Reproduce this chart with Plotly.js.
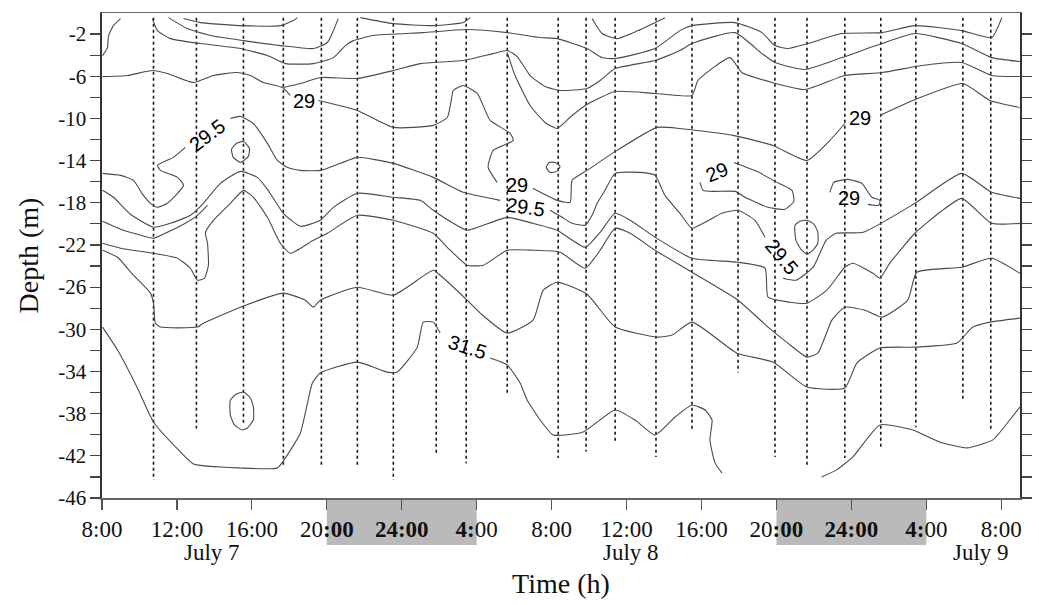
<!DOCTYPE html>
<html><head><meta charset="utf-8">
<script src="https://cdn.plot.ly/plotly-3.0.1.min.js"></script>
<style>html,body{margin:0;padding:0;background:#fff}#chart{width:1039px;height:605px}</style>
</head><body><div id="chart"></div>
<script>
// ---- time axis: hours since 08:00 July 7 ----
const xTickVals = [0,4,8,12,16,20,24,28,32,36,40,44,48];
const xTickText = ["8:00","12:00","16:00","20<b>:00</b>","<b>24:00</b>","<b>4:</b>00","8:00","12:00","16:00","20<b>:00</b>","<b>24:00</b>","<b>4:</b>00","8:00"];
const dateLabels = ["July 7","July 8","July 9"];
const dateLabelHours = [5.85, 28.24, 46.91];
const yTickVals = [-46,-44,-42,-40,-38,-36,-34,-32,-30,-28,-26,-24,-22,-20,-18,-16,-14,-12,-10,-8,-6,-4,-2];
const yTickText = ["-46","","-42","","-38","","-34","","-30","","-26","","-22","","-18","","-14","","-10","","-6","","-2"];
const nightStart = [12, 36];
const nightEnd = [20, 44];

// ---- CTD casts (dotted verticals) ----
const castHours = [2.75,5.04,7.55,9.68,11.71,13.63,15.55,17.84,19.44,21.63,24.35,25.84,27.39,29.57,31.49,33.95,35.92,37.63,39.65,41.57,43.44,45.95,47.44];
const castBottom = [-44.3,-39.4,-38.9,-43.1,-43.1,-43.1,-44.3,-41.7,-42.7,-36.2,-42.2,-41.6,-40.7,-42.1,-39.7,-34.1,-42.1,-43.1,-42.2,-41.3,-39.3,-36.6,-39.7];
const castTop = -0.45;

// ---- isolines (time h, depth m); null = gap for a label ----
const lineT0_t = [0.03,0.29,0.35,0.61,0.99];
const lineT0_d = [-4.04,-3.28,-2.14,-1.2,-0.53];
const lineP1_t = [4.35,5.25,7.55,9.52,10.21,10.43];
const lineP1_d = [-0.53,-0.91,-1.2,-1.2,-0.72,-0.44];
const lineP2_t = [3.55,4.56,5.79,7.55,9.52,11.28,12.03,12.35,12.61];
const lineP2_d = [-0.44,-1.48,-2.14,-2.62,-3.09,-3.37,-2.8,-1.67,-0.53];
const lineP3_t = [13.79,15.55,17.68,19.28,19.65];
const lineP3_d = [-0.44,-1.01,-1.2,-0.91,-0.44];
const lineV_t = [26.16,26.69,27.49,28.61,30.05];
const lineV_d = [-0.53,-1.95,-2.43,-1.67,-0.44];
const lineB_t = [2.69,2.96,3.65,5.25,7.39,8.83,9.79,11.28,12.35,12.99,13.41,14.48,17.15,19.49,21.63,23.39,24.29,25.89,26.69,27.39,29.52,30.85,31.49,33.79,35.23,35.92,36.61,37.68,39.49,41.63,43.39,45.89,47.49,48.03];
const lineB_d = [-0.53,-1.67,-2.43,-2.9,-3.37,-4.04,-4.8,-4.8,-4.23,-3.09,-2.62,-2.14,-1.86,-1.57,-1.86,-2.33,-2.43,-3.37,-4.23,-4.32,-3.37,-1.67,-1.2,-0.91,-1.86,-3.09,-3.37,-2.9,-1.95,-1.86,-1.2,-1.67,-2.33,-0.44];
const lineC_t = [9.68,10.59,11.65,13.63,15.55,16.99,19.28,20.88,21.63,22.16,22.85,23.65,24.45,25.89,26.59,27.39,29.52,30.85,31.49,33.79,35.23,35.92,37.52,39.49,41.63,43.39,45.89,47.49,48.99];
const lineC_d = [-7.07,-6.69,-6.12,-6.21,-5.46,-4.8,-4.51,-3.85,-3.56,-4.13,-5.93,-6.97,-7.35,-7.16,-6.4,-5.27,-4.51,-3.56,-2.9,-1.86,-3.85,-4.7,-5.36,-4.23,-2.9,-1.95,-2.9,-4.23,-4.6];
const lineD_t = [21.63,22.05,22.85,23.65,24.29,25.09,25.89,27.39,29.52,31.49,31.81,33.52,34.16,35.76,37.52,39.65,41.63,43.76,45.89,47.49,48.99];
const lineD_d = [-3.75,-5.93,-8.77,-10.38,-10.95,-9.72,-8.68,-7.45,-7.63,-7.82,-6.4,-4.23,-5.65,-6.59,-7.26,-5.93,-5.65,-4.98,-4.7,-5.93,-6.02];
const iso29_t = [0.03,1.36,2.69,3.49,4.88,5.95,7.23,7.92,8.61,9.63,10.05,null,11.55,13.63,15.55,17.68,18.43,18.64,18.75,19.28,20.03,20.72,21.79,21.95,20.88,20.61,21.09,null,22.99,24.29,24.99,25.09,25.89,27.49,29.63,30.85,33.68,35.81,37.63,38.85,39.65,null,41.52,43.28,45.95,47.39,48.99];
const iso29_d = [-6.03,-5.93,-5.46,-5.74,-6.59,-5.93,-5.65,-5.93,-6.59,-7.07,-7.82,null,-8.3,-9.24,-10.85,-10.66,-9.91,-8.3,-7.35,-6.88,-7.63,-10.19,-11.42,-12.09,-13.03,-14.64,-16.06,null,-16.63,-17.77,-17.96,-15.87,-14.93,-13.03,-10.85,-10.95,-11.61,-12.56,-13.98,-12.09,-10.48,null,-9.72,-8.3,-6.69,-8.3,-8.96];
const iso295_t = [0.03,0.99,1.68,2.21,2.59,2.96,3.49,4.35,4.03,3.12,2.96,3.81,4.45,null,6.85,7.39,8.08,8.83,9.36,9.89,10.59,11.65,12.72,13.63,15.55,17.68,19.28,21.25,null,23.92,24.56,25.09,25.79,26.16,26.43,26.85,27.39,28.72,29.52,30.05,30.85,31.49,32.19,33.09,33.95,34.85,35.39,null,36.35,37.05,37.96,38.65,39.19,40.63,43.39,45.89,47.49,49.0];
const iso295_d = [-15.21,-15.4,-15.87,-17.3,-18.05,-18.43,-18.05,-16.35,-15.59,-14.93,-14.45,-13.69,-12.75,null,-10.0,-9.81,-10.48,-12.37,-13.98,-14.64,-14.93,-14.93,-14.26,-13.69,-14.26,-15.59,-17.01,-17.77,null,-18.71,-19.38,-19.95,-20.13,-19.19,-18.05,-16.82,-15.21,-15.12,-15.4,-17.3,-19.0,-20.42,-19.85,-19.0,-18.71,-19.66,-21.27,null,-25.15,-25.34,-24.11,-21.56,-20.89,-20.8,-18.05,-15.21,-17.01,-17.58];
const lineE_t = [0.03,0.61,1.52,2.75,3.65,4.72,5.41,6.32,7.39,8.29,8.83,9.68,10.59,11.65,12.35,13.63,15.55,16.99,17.68,18.75,19.49,21.63,23.01,24.29,25.79,26.59,27.39,28.19,29.52,31.49,33.95,35.39,35.55,36.72,37.63,38.69,39.65,40.08,41.15,41.52,42.05,43.39,44.73,45.89,47.49,48.99];
const lineE_d = [-16.82,-17.48,-19.09,-20.32,-19.95,-19.19,-18.05,-16.16,-15.02,-15.59,-16.73,-19.0,-20.23,-19.66,-18.43,-17.1,-17.48,-17.77,-18.71,-19.95,-20.61,-19.38,-19.95,-20.61,-22.22,-20.8,-19.0,-19.66,-21.27,-23.26,-23.64,-24.2,-26.95,-27.43,-27.52,-26.29,-24.11,-23.73,-24.68,-25.15,-23.73,-20.89,-18.9,-17.58,-19.95,-19.95];
const lineF_t = [0.03,0.99,1.89,2.75,3.49,4.35,5.09,5.63];
const lineF_d = [-19.76,-20.51,-20.99,-21.37,-20.8,-20.04,-19.19,-18.24];
const lineG_t = [0.03,0.99,2.75,4.03,4.72,5.09,5.47,5.68,5.63,5.52,5.95,6.85,7.55,8.08,8.83,9.52,10.05,11.28,12.03,13.63,15.55,17.68,18.43,19.49,20.35,21.63,23.01,24.45,25.79,26.59,27.39,28.19,29.52,31.49,33.95,35.55,36.61,37.63,38.21,38.96,39.65,40.72,41.63,43.01,43.49,45.89,47.49,48.99];
const lineG_d = [-21.84,-22.31,-22.79,-23.26,-24.21,-25.34,-25.15,-23.92,-21.84,-20.8,-19.66,-18.05,-16.82,-17.48,-19.38,-21.84,-22.79,-21.56,-20.89,-19.19,-19.66,-20.89,-22.22,-23.92,-23.92,-22.5,-22.5,-22.69,-24.21,-22.5,-20.42,-20.89,-22.5,-24.59,-27.24,-29.79,-31.31,-32.64,-32.26,-29.13,-27.9,-28.19,-28.85,-27.24,-24.59,-24.11,-23.26,-24.68];
const lineH_t = [0.03,0.83,1.68,2.59,2.75,2.85,3.12,5.09,5.41,7.39,9.68,10.85,11.28,11.65,13.63,15.55,17.68,18.05,19.49,20.19,21.63,23.01,23.55,24.29,25.89,27.39,29.63,30.43,31.49,33.89,35.81,37.63,39.65,40.29,41.52,43.49,45.63,46.48,47.39,48.99];
const lineH_d = [-22.5,-23.17,-24.87,-26.57,-27.52,-29.42,-29.79,-29.79,-29.42,-27.9,-26.57,-27.24,-27.9,-27.24,-26.01,-26.76,-24.4,-24.87,-27.24,-28.47,-30.36,-29.13,-26.29,-25.53,-26.67,-29.79,-30.74,-30.55,-29.32,-32.26,-33.11,-35.48,-35.57,-33.2,-31.78,-31.69,-31.31,-29.79,-29.32,-28.94];
const iso315a_t = [0.03,0.83,1.89,2.75,4.03,4.88,7.39,9.36,9.79,10.59,11.23,11.65,13.63,15.23,15.76,16.83,17.15,17.68,18.05,null,20.72,21.63,22.32,22.69,23.39,24.08,25.68,27.39,28.45,29.52,30.59,31.49,32.19,32.56,32.45,32.72,33.09];
const iso315a_d = [-29.79,-31.97,-35.57,-38.79,-41.35,-42.77,-43.15,-43.15,-42.2,-39.83,-35.1,-34.15,-33.11,-34.06,-34.06,-31.69,-29.32,-29.32,-30.36,null,-32.73,-33.39,-35.1,-36.7,-38.6,-40.02,-39.74,-37.65,-38.6,-40.02,-38.32,-37.18,-37.65,-38.6,-40.49,-42.67,-43.62];
const iso315b_t = [38.41,39.21,40.08,41.52,43.28,44.71,46.16,47.55,48.45,48.99];
const iso315b_d = [-44.0,-43.33,-42.1,-39.07,-39.55,-40.68,-41.25,-40.49,-38.6,-37.37];
// small closed / hooked contours
const loop1_t = [6.91,7.17,7.55,7.87,7.81,7.39,7.01,6.91];
const loop1_d = [-12.94,-12.37,-12.18,-12.84,-13.6,-14.17,-13.69,-12.94];
const loop2_t = [6.85,7.17,7.55,7.92,8.08,8.08,7.76,7.49,7.07,6.85,6.85];
const loop2_d = [-36.71,-36.14,-35.95,-36.52,-37.37,-38.6,-39.36,-39.55,-39.07,-38.13,-36.71];
const loop3_t = [23.71,23.87,24.19,24.45,24.29,23.92,23.71];
const loop3_d = [-14.64,-14.17,-14.17,-14.55,-15.02,-15.12,-14.64];
const loop4_t = [33.73,34.96,35.92,36.83,36.93,36.45,35.55,34.32,33.79,32.72,32.08,31.92];
const loop4_d = [-14.17,-15.02,-15.97,-16.82,-17.86,-18.62,-18.43,-17.48,-16.92,-16.92,-16.82,-16.06];
const loop5_t = [38.85,39.07,39.81,40.56,41.09,41.52,41.47,40.88];
const loop5_d = [-17.01,-16.06,-15.78,-16.16,-17.48,-17.77,-18.24,-18.15];
const loop6_t = [36.99,37.25,37.63,38.01,38.21,38.21,37.95,37.63,37.31,37.04,36.99];
const loop6_d = [-20.13,-19.76,-19.66,-20.04,-20.8,-21.84,-22.5,-22.88,-22.41,-21.56,-20.13];

// contour labels
const labelText = ["29","29.5","29","29.5","29","29.5","29","29","31.5"];
const labelHour = [10.8,5.63,22.16,22.59,40.45,36.29,32.83,39.87,19.49];
const labelDepth = [-8.39,-11.61,-16.35,-18.43,-10.0,-23.16,-15.12,-17.58,-31.69];
const labelAngle = [0,-37,0,8,0,50,-22,0,18];

const serif = "'Liberation Serif','Times New Roman',Times,serif";
const sans = "'Liberation Sans',Arial,Helvetica,sans-serif";

const lineSets = [
  [lineT0_t,lineT0_d],[lineP1_t,lineP1_d],[lineP2_t,lineP2_d],[lineP3_t,lineP3_d],[lineV_t,lineV_d],
  [lineB_t,lineB_d],[lineC_t,lineC_d],[lineD_t,lineD_d],[iso29_t,iso29_d],[iso295_t,iso295_d],
  [lineE_t,lineE_d],[lineF_t,lineF_d],[lineG_t,lineG_d],[lineH_t,lineH_d],
  [iso315a_t,iso315a_d],[iso315b_t,iso315b_d],
  [loop1_t,loop1_d],[loop2_t,loop2_d],[loop3_t,loop3_d],[loop4_t,loop4_d],[loop5_t,loop5_d],[loop6_t,loop6_d]
];

const traces = [];
// casts
const cx = [], cy = [];
castHours.forEach((h, i) => { cx.push(h, h, null); cy.push(castTop, castBottom[i], null); });
traces.push({x: cx, y: cy, type: 'scatter', mode: 'lines', hoverinfo: 'skip', showlegend: false,
  line: {color: '#1a1a1a', width: 1.6, dash: 'dot'}});
lineSets.forEach(([t, d]) => {
  traces.push({x: t, y: d, type: 'scatter', mode: 'lines', hoverinfo: 'skip', showlegend: false,
    connectgaps: false, line: {color: '#4a4a4a', width: 1.1, shape: 'spline', smoothing: 0.5}});
});

const annotations = [];
labelText.forEach((txt, i) => {
  annotations.push({x: labelHour[i], y: labelDepth[i], xref: 'x', yref: 'y', text: txt, showarrow: false,
    textangle: labelAngle[i], font: {family: sans, size: 20, color: '#000'}});
});
dateLabels.forEach((txt, i) => {
  annotations.push({x: dateLabelHours[i], y: -0.113, xref: 'x', yref: 'paper', yanchor: 'middle', text: txt,
    showarrow: false, font: {family: serif, size: 23, color: '#111'}});
});

const shapes = nightStart.map((s, i) => ({type: 'rect', xref: 'x', yref: 'paper', x0: s, x1: nightEnd[i],
  y0: -0.097, y1: 0, fillcolor: '#bababa', line: {width: 0}, layer: 'below'}));

const layout = {
  width: 1039, height: 605,
  margin: {l: 102, r: 19, t: 13, b: 107, pad: 0},
  paper_bgcolor: '#fff', plot_bgcolor: 'rgba(0,0,0,0)',
  showlegend: false,
  xaxis: {range: [0, 49], tickmode: 'array', tickvals: xTickVals, ticktext: xTickText,
    ticks: 'outside', ticklen: 10, tickwidth: 1.2, tickcolor: '#555',
    showline: true, linecolor: '#666', linewidth: 1.5, mirror: true,
    showgrid: false, zeroline: false, automargin: false,
    tickfont: {family: serif, size: 23, color: '#111'},
    title: {text: 'Time (h)', font: {family: serif, size: 28, color: '#111'}, standoff: 32}},
  yaxis: {range: [-46, 0], tickmode: 'array', tickvals: yTickVals, ticktext: yTickText,
    ticks: 'outside', ticklen: 10, tickwidth: 1.2, tickcolor: '#444',
    showline: true, linecolor: '#333', linewidth: 1.6, mirror: 'ticks',
    showgrid: false, zeroline: false, automargin: false,
    tickfont: {family: serif, size: 21, color: '#111'},
    title: {text: 'Depth (m)', font: {family: serif, size: 28, color: '#111'}, standoff: 11}},
  shapes: shapes,
  annotations: annotations
};

Plotly.newPlot('chart', traces, layout, {staticPlot: true, displayModeBar: false});
</script></body></html>
